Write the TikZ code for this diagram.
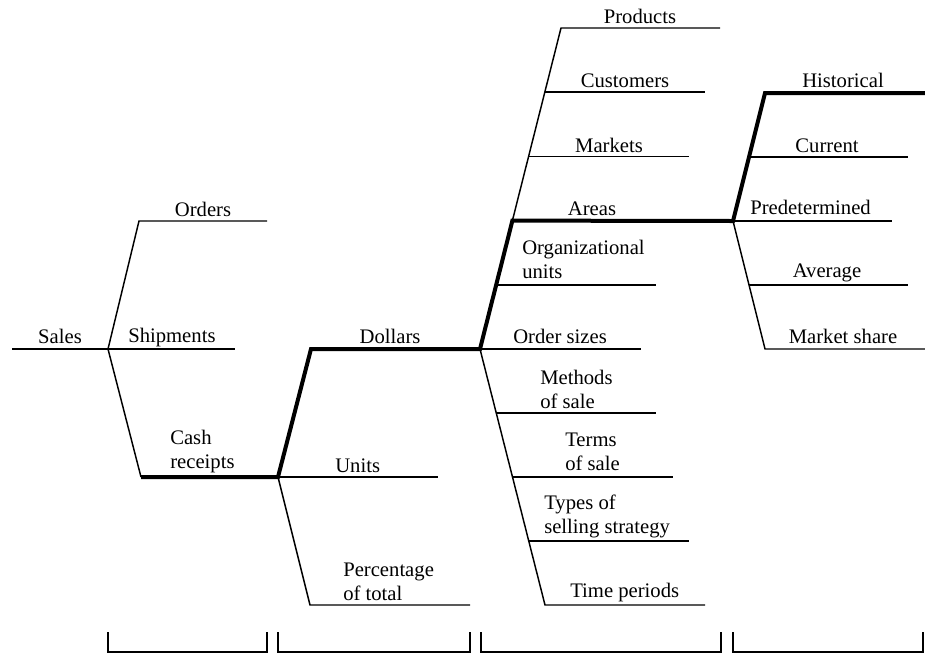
\documentclass[tikz,border=0pt]{standalone}
\usepackage{fontspec}
\setmainfont{Liberation Serif}
\usetikzlibrary{calc,positioning}

\begin{document}
\begin{tikzpicture}[x=0.75pt,y=-0.75pt,
  thinline/.style={line width=1.1pt},
  thickline/.style={line width=3pt},
  lbl/.style={inner sep=0pt,font=\fontsize{15.5}{18}\selectfont},
  lbll/.style={lbl,anchor=base west,align=left},
  lblc/.style={lbl,anchor=base}]
  \useasboundingbox (0,0) rectangle (925,654);
  % level 1
  \coordinate (S0) at (12,349);
  \coordinate (S) at (108,349);
  \coordinate (Or1) at (139,221); \coordinate (Or2) at (267,221);
  \coordinate (Sh2) at (235,349);
  \coordinate (Ca1) at (141,477); \coordinate (C) at (278,477);
  % level 2
  \coordinate (Do1) at (311,349); \coordinate (D) at (480,349);
  \coordinate (Un2) at (438,477);
  \coordinate (Pe1) at (310,605); \coordinate (Pe2) at (470,605);
  % level 3, one slanted line up and one down
  \coordinate (Top) at (561,28);
  \coordinate (Bot) at (545,605);
  \coordinate (Ou1) at ($(D)!0.2!(Top)$);
  \coordinate (A) at ($(D)!0.4!(Top)$);
  \coordinate (Ma1) at ($(D)!0.6!(Top)$);
  \coordinate (Cu1) at ($(D)!0.8!(Top)$);
  \coordinate (Me1) at ($(D)!0.25!(Bot)$);
  \coordinate (Te1) at ($(D)!0.5!(Bot)$);
  \coordinate (Ty1) at ($(D)!0.75!(Bot)$);
  % level 4
  \coordinate (P) at (733,221);
  \coordinate (Hi1) at (765,93); \coordinate (Hi2) at (925,93);
  \coordinate (Cr1) at ($(P)!0.5!(Hi1)$);
  \coordinate (Ms1) at (765,349); \coordinate (Ms2) at (925,349);
  \coordinate (Av1) at ($(P)!0.5!(Ms1)$);

  % thin branches
  \draw[thinline] (S0)--(S);
  \draw[thinline] (S)--(Or1)--(Or2);
  \draw[thinline] (S)--(Sh2);
  \draw[thinline] (S)--(Ca1);
  \draw[thinline] (C)--(Un2);
  \draw[thinline] (C)--(Pe1)--(Pe2);
  \draw[thinline] (A)--(Top)--++(159,0);
  \draw[thinline] (Cu1)--++(160,0);
  \draw[thinline] (Ma1)--++(160,0);
  \draw[thinline] (Ou1)--++(160,0);
  \draw[thinline] (D)--++(161,0);
  \draw[thinline] (D)--(Bot)--++(160,0);
  \draw[thinline] (Me1)--++(160,0);
  \draw[thinline] (Te1)--++(160,0);
  \draw[thinline] (Ty1)--++(160,0);
  \draw[thinline] (Cr1)--++(159,0);
  \draw[thinline] (P)--++(159,0);
  \draw[thinline] (Av1)--++(159,0);
  \draw[thinline] (P)--(Ms1)--(Ms2);
  % the thick path
  \draw[thickline] (Ca1)--(C)--(Do1)--(D)--(A)--(P)--(Hi1)--(Hi2);

  % labels (two-line ones sit on their last line)
  \node[lblc] (sales) at (60,343) {Sales};
  \node[lblc] (orders) at (203,216) {Orders};
  \node[lbll] (shipments) at (128,342) {Shipments};
  \node[lbll] (cash) at (170,468) {Cash\\receipts};
  \node[lblc] (dollars) at (390,343) {Dollars};
  \node[lbll] (units) at (335,472) {Units};
  \node[lbll] (percent) at (343,600) {Percentage\\of total};
  \node[lblc] (products) at (640,23) {Products};
  \node[lblc] (customers) at (625,87) {Customers};
  \node[lblc] (markets) at (609,152) {Markets};
  \node[lblc] (areas) at (592,215) {Areas};
  \node[lbll] (orgunits) at (522,278) {Organizational\\units};
  \node[lbll] (ordersizes) at (513,343) {Order sizes};
  \node[lbll] (methods) at (540,408) {Methods\\of sale};
  \node[lbll] (terms) at (565,470) {Terms\\of sale};
  \node[lbll] (types) at (544,533) {Types of\\selling strategy};
  \node[lbll] (periods) at (570,597) {Time periods};
  \node[lblc] (historical) at (843,87) {Historical};
  \node[lblc] (current) at (827,152) {Current};
  \node[lbll] (predet) at (750,214) {Predetermined};
  \node[lblc] (average) at (827,277) {Average};
  \node[lblc] (share) at (843,343) {Market share};

  % brackets under the levels
  \foreach \a/\b in {108/267,278/470,481/721,733/923}
    \draw[thinline] (\a,632)--(\a,652)--(\b,652)--(\b,632);
\end{tikzpicture}
\end{document}
